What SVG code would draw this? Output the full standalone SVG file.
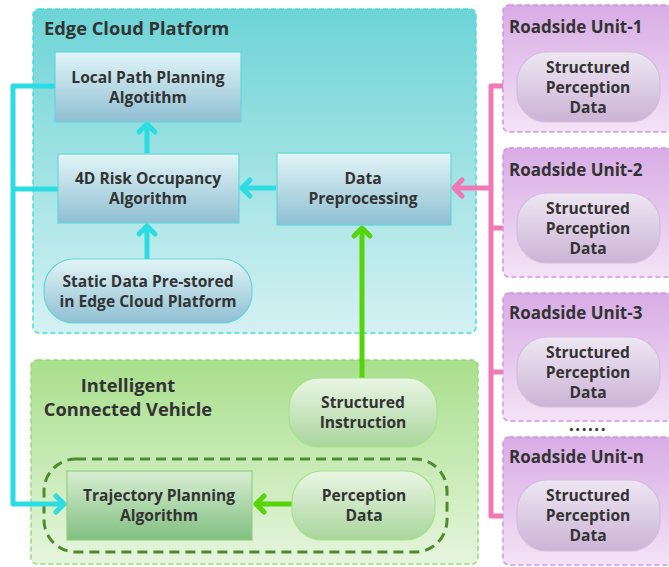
<svg xmlns="http://www.w3.org/2000/svg" width="669" height="567" viewBox="0 0 669 567">
  <defs>
    <linearGradient id="gCloud" x1="0" y1="0" x2="0" y2="1">
      <stop offset="0" stop-color="#6dd4d6"/>
      <stop offset="1" stop-color="#d5f1f2"/>
    </linearGradient>
    <linearGradient id="gCloudNode" x1="0" y1="0" x2="0" y2="1">
      <stop offset="0" stop-color="#e2f5f7"/>
      <stop offset="1" stop-color="#8fbfd2"/>
    </linearGradient>
    <linearGradient id="gVehicle" x1="0" y1="0" x2="0" y2="1">
      <stop offset="0" stop-color="#a8df8c"/>
      <stop offset="1" stop-color="#e6f5dd"/>
    </linearGradient>
    <linearGradient id="gVehPill" x1="0" y1="0" x2="0" y2="1">
      <stop offset="0" stop-color="#eaf6e4"/>
      <stop offset="1" stop-color="#a9d59c"/>
    </linearGradient>
    <linearGradient id="gTraj" x1="0" y1="0" x2="0" y2="1">
      <stop offset="0" stop-color="#d9eed4"/>
      <stop offset="1" stop-color="#80bf7e"/>
    </linearGradient>
    <linearGradient id="gRsu" x1="0" y1="0" x2="0" y2="1">
      <stop offset="0" stop-color="#d8ace5"/>
      <stop offset="1" stop-color="#f3e3f6"/>
    </linearGradient>
    <linearGradient id="gRsuPill" x1="0" y1="0" x2="0" y2="1">
      <stop offset="0" stop-color="#eee7f2"/>
      <stop offset="1" stop-color="#cbb3d6"/>
    </linearGradient>
  </defs>
  <style>
    text { font-family: "Open Sans", "Noto Sans", "DejaVu Sans", sans-serif; font-weight: bold; fill: #333333; }
    .t { font-size: 15.6px; text-anchor: middle; }
    .h { font-size: 17px; }
    .hb { font-size: 18.3px; }
    .cloud-frame { fill: url(#gCloud); stroke: #3fdde2; stroke-width: 1.5; stroke-dasharray: 5 3; }
    .veh-frame { fill: url(#gVehicle); stroke: #90e06c; stroke-width: 1.5; stroke-dasharray: 5 3; }
    .rsu-frame { fill: url(#gRsu); stroke: #d98fe8; stroke-width: 1.5; stroke-dasharray: 5 3; }
    .cloud-node { fill: url(#gCloudNode); stroke: #63d6db; stroke-width: 1.2; }
    .veh-pill { fill: url(#gVehPill); stroke: #a3e487; stroke-width: 1.2; }
    .traj { fill: url(#gTraj); stroke: #8fd088; stroke-width: 1.2; }
    .rsu-pill { fill: url(#gRsuPill); stroke: #d3bde0; stroke-width: 1.2; }
    .cyan { fill: none; stroke: #2bdde2; stroke-width: 5; stroke-linejoin: round; }
    .pink { fill: none; stroke: #ef79b4; stroke-width: 5; stroke-linejoin: round; }
    .green { fill: none; stroke: #55d40a; stroke-width: 5; stroke-linejoin: round; }
    .head { stroke-linecap: round; }
  </style>

  <!-- containers -->
  <g id="edge-cloud-platform">
    <rect class="cloud-frame" x="33" y="9" width="443" height="324" rx="6"/>
    <text class="hb" x="44" y="35">Edge Cloud Platform</text>
  </g>
  <g id="intelligent-connected-vehicle">
    <rect class="veh-frame" x="31" y="360" width="447" height="204" rx="6"/>
    <text class="hb" x="128" y="392" text-anchor="middle">Intelligent</text>
    <text class="hb" x="128" y="416" text-anchor="middle">Connected Vehicle</text>
    <rect x="44" y="459" width="403" height="93" rx="32" fill="none" stroke="#4f8c2e" stroke-width="3" stroke-dasharray="10 6"/>
  </g>

  <!-- connectors -->
  <g id="connectors">
    <!-- edge cloud internals -->
    <path class="cyan" d="M147 153 V125"/>
    <path class="cyan head" d="M139 132 L147 124 L155 132"/>
    <path class="cyan" d="M147 259 V226"/>
    <path class="cyan head" d="M139 234 L147 226 L155 234"/>
    <path class="cyan" d="M276 188 H242"/>
    <path class="cyan head" d="M250 180 L242 188 L250 196"/>
    <!-- feedback to vehicle -->
    <path class="cyan" d="M55 86 H13 V504 H64"/>
    <path class="cyan" d="M58 189 H13"/>
    <path class="cyan head" d="M56 496 L64 504 L56 512"/>
    <!-- instruction uplink -->
    <path class="green" d="M362 378 V228"/>
    <path class="green head" d="M354 236 L362 228 L370 236"/>
    <!-- perception to trajectory -->
    <path class="green" d="M292 504 H256"/>
    <path class="green head" d="M264 496 L256 504 L264 512"/>
    <!-- roadside bus -->
    <path class="pink" d="M517 86 H491 V516 H517"/>
    <path class="pink" d="M517 228 H491"/>
    <path class="pink" d="M517 372 H491"/>
    <path class="pink" d="M491 188 H454"/>
    <path class="pink head" d="M462 180 L454 188 L462 196"/>
  </g>

  <!-- edge cloud nodes -->
  <g id="local-path-planning">
    <rect class="cloud-node" x="55" y="52" width="186" height="70"/>
    <text class="t" x="148" y="83">Local Path Planning</text>
    <text class="t" x="148" y="103">Algotithm</text>
  </g>
  <g id="risk-occupancy">
    <rect class="cloud-node" x="58" y="154" width="181" height="69"/>
    <text class="t" x="148" y="184">4D Risk Occupancy</text>
    <text class="t" x="148" y="204">Algorithm</text>
  </g>
  <g id="data-preprocessing">
    <rect class="cloud-node" x="277" y="153" width="174" height="72"/>
    <text class="t" x="363" y="184">Data</text>
    <text class="t" x="363" y="204">Preprocessing</text>
  </g>
  <g id="static-data">
    <rect class="cloud-node" x="44" y="259" width="208" height="64" rx="30"/>
    <text class="t" x="148" y="287">Static Data Pre-stored</text>
    <text class="t" x="148" y="307">in Edge Cloud Platform</text>
  </g>

  <!-- vehicle nodes -->
  <g id="structured-instruction">
    <rect class="veh-pill" x="289" y="378" width="148" height="69" rx="30"/>
    <text class="t" x="363" y="408">Structured</text>
    <text class="t" x="363" y="428">Instruction</text>
  </g>
  <g id="trajectory-planning">
    <rect class="traj" x="67" y="471" width="185" height="69"/>
    <text class="t" x="159" y="501">Trajectory Planning</text>
    <text class="t" x="159" y="521">Algorithm</text>
  </g>
  <g id="perception-data">
    <rect class="veh-pill" x="292" y="471" width="143" height="69" rx="30"/>
    <text class="t" x="364" y="501">Perception</text>
    <text class="t" x="364" y="521">Data</text>
  </g>

  <!-- roadside units -->
  <g id="rsu-1">
    <rect class="rsu-frame" x="503" y="5" width="172" height="127" rx="6"/>
    <text class="h" x="509" y="33">Roadside Unit-1</text>
    <rect class="rsu-pill" x="517" y="52" width="143" height="70" rx="30"/>
    <text class="t" x="588" y="73">Structured</text>
    <text class="t" x="588" y="93">Perception</text>
    <text class="t" x="588" y="113">Data</text>
  </g>
  <g id="rsu-2">
    <rect class="rsu-frame" x="503" y="148" width="172" height="129" rx="6"/>
    <text class="h" x="509" y="176">Roadside Unit-2</text>
    <rect class="rsu-pill" x="517" y="193" width="143" height="70" rx="30"/>
    <text class="t" x="588" y="214">Structured</text>
    <text class="t" x="588" y="234">Perception</text>
    <text class="t" x="588" y="254">Data</text>
  </g>
  <g id="rsu-3">
    <rect class="rsu-frame" x="503" y="293" width="172" height="128" rx="6"/>
    <text class="h" x="509" y="319">Roadside Unit-3</text>
    <rect class="rsu-pill" x="517" y="337" width="143" height="70" rx="30"/>
    <text class="t" x="588" y="358">Structured</text>
    <text class="t" x="588" y="378">Perception</text>
    <text class="t" x="588" y="398">Data</text>
  </g>
  <text x="588" y="431" text-anchor="middle" style="font-size:17px; letter-spacing:1.5px">......</text>
  <g id="rsu-n">
    <rect class="rsu-frame" x="503" y="437" width="172" height="128" rx="6"/>
    <text class="h" x="509" y="463">Roadside Unit-n</text>
    <rect class="rsu-pill" x="517" y="480" width="143" height="71" rx="30"/>
    <text class="t" x="588" y="501">Structured</text>
    <text class="t" x="588" y="521">Perception</text>
    <text class="t" x="588" y="541">Data</text>
  </g>
</svg>
